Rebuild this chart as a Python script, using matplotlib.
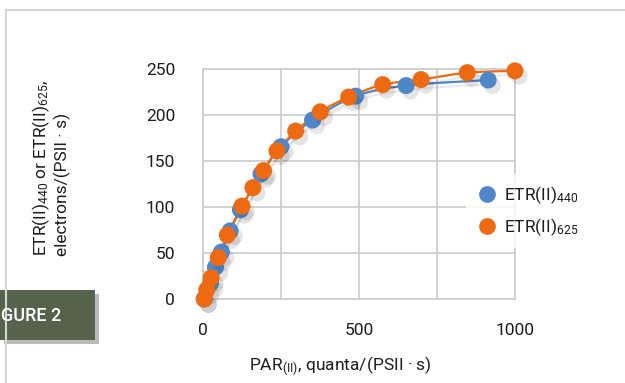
import numpy as np
import matplotlib
matplotlib.use("Agg")
import matplotlib.pyplot as plt
import matplotlib.patheffects as pe
from matplotlib.lines import Line2D
from matplotlib.patches import Rectangle

plt.rcParams['font.family'] = ['Roboto', 'DejaVu Sans']
plt.rcParams['mathtext.default'] = 'regular'

# data
par_440 = [4, 24, 40, 59, 87, 120, 186, 250, 351, 489, 651, 914]
etr_440 = [0, 17, 34.5, 51, 74, 97, 136, 165.5, 194.5, 220.5, 232, 238]
par_625 = [4, 12, 26, 49, 78, 125, 160, 194, 237, 297, 376, 467, 576, 699, 847, 1000]
etr_625 = [0, 10, 23, 45, 69.5, 101, 121, 139.5, 161, 182.5, 203.5, 219.5, 233, 238.5, 246, 248]

blue = '#4f86c8'
orange = '#ee6a12'
txt = '#1c1c1c'


def smooth(xs, ys, n=20):
    # catmull-rom through the points, like excel's smoothed line
    p = np.column_stack([xs, ys]).astype(float)
    p = np.vstack([p[0], p, p[-1]])
    out = []
    t = np.linspace(0, 1, n, endpoint=False)[:, None]
    for i in range(1, len(p) - 2):
        p0, p1, p2, p3 = p[i - 1], p[i], p[i + 1], p[i + 2]
        out.append(0.5 * ((2 * p1) + (-p0 + p2) * t + (2 * p0 - 5 * p1 + 4 * p2 - p3) * t ** 2
                          + (-p0 + 3 * p1 - 3 * p2 + p3) * t ** 3))
    out.append(p[-2][None, :])
    out = np.vstack(out)
    return out[:, 0], out[:, 1]


fig = plt.figure(figsize=(6.25, 3.83), dpi=100)
ax = fig.add_axes([203 / 625, 1 - 299 / 383, 312 / 625, 230 / 383])

shadow = [pe.SimplePatchShadow(offset=(3, -4), shadow_rgbFace='k', alpha=0.1), pe.Normal()]
for xs, ys, c in [(par_440, etr_440, blue), (par_625, etr_625, orange)]:
    sx, sy = smooth(xs, ys)
    ax.plot(sx, sy, color=c, lw=1.6, zorder=3, clip_on=False,
            path_effects=[pe.SimpleLineShadow(offset=(2, -3), alpha=0.08), pe.Normal()])
    ax.scatter(xs, ys, s=150, color=c, zorder=4, clip_on=False, linewidths=0,
               path_effects=shadow)

ax.set_xlim(0, 1000)
ax.set_ylim(0, 250)
ax.set_xticks([0, 500, 1000])
ax.set_yticks([0, 50, 100, 150, 200, 250])
ax.xaxis.set_minor_locator(matplotlib.ticker.FixedLocator([250, 750]))
ax.grid(True, which='both', color='#cccccc', lw=1.2)
ax.set_axisbelow(True)
for s in ax.spines.values():
    s.set_color('#cccccc')
    s.set_linewidth(1.2)
ax.tick_params(which='both', length=0, labelsize=12.5, colors=txt)
ax.tick_params(axis='y', pad=20)
ax.tick_params(axis='x', pad=17)

handles = [Line2D([], [], ls='none', marker='o', ms=11, color=blue),
           Line2D([], [], ls='none', marker='o', ms=11, color=orange)]
leg = fig.legend(handles, ['ETR(II)$_{440}$', 'ETR(II)$_{625}$'],
                 loc='center left', bbox_to_anchor=(457 / 625, 1 - 211 / 383),
                 frameon=True, fontsize=12.5, handletextpad=0.3, handlelength=1.3,
                 labelspacing=0.6, borderpad=0.6)
leg.get_frame().set_edgecolor('none')
leg.get_frame().set_facecolor('white')
for t in leg.get_texts():
    t.set_color(txt)
leg.set_zorder(5)

fig.text(340 / 625, 1 - 366 / 383, 'PAR$_{(II)}$, quanta/(PSII · s)',
         ha='center', va='center', fontsize=12.5, color=txt)
fig.text(41 / 625, 1 - 256 / 383, 'ETR(II)$_{440}$ or ETR(II)$_{625}$,',
         rotation=90, ha='center', va='bottom', fontsize=12.5, color=txt)
fig.text(62 / 625, 1 - 256 / 383, 'electrons/(PSII · s)',
         rotation=90, ha='center', va='bottom', fontsize=12.5, color=txt)

# page frame lines
fig.add_artist(Line2D([6 / 625, 6 / 625], [0, 1 - 10 / 383], color='#d6d6d6', lw=1.5,
                      transform=fig.transFigure))
fig.add_artist(Line2D([6 / 625, 1], [1 - 10 / 383, 1 - 10 / 383], color='#d6d6d6', lw=1.5,
                      transform=fig.transFigure))

# figure label box
box = Rectangle((0, 1 - 340 / 383), 95 / 625, 50 / 383, transform=fig.transFigure,
                facecolor='#56624b', edgecolor='none',
                path_effects=[pe.SimplePatchShadow(offset=(3, -3), alpha=0.3), pe.Normal()])
fig.add_artist(box)
fig.text(1 / 625, 1 - 316 / 383, 'GURE 2', ha='left', va='center', fontsize=13,
         color='white', fontweight='medium')

fig.savefig('out.png', dpi=100)
